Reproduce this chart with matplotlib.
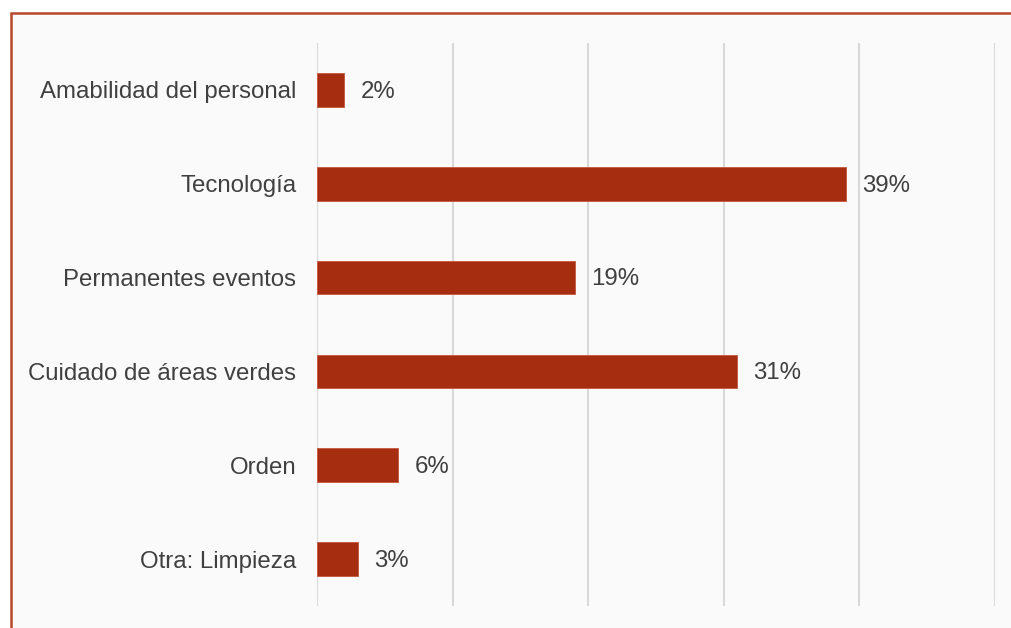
import matplotlib.pyplot as plt
from matplotlib.patches import Rectangle

# Respuestas por categoría (%)
categorias = ['Amabilidad del personal', 'Tecnología', 'Permanentes eventos',
              'Cuidado de áreas verdes', 'Orden', 'Otra: Limpieza']
porcentajes = [2, 39, 19, 31, 6, 3]
x_ticks = [0, 10, 20, 30, 40, 50]

plt.rcParams['font.family'] = ['Liberation Sans', 'DejaVu Sans']

fig = plt.figure(figsize=(10.11, 6.28), dpi=100, facecolor='white')

# marco del gráfico
marco = Rectangle((10.5 / 1011, -0.05), 1.05, 1 - 13.5 / 628 + 0.05,
                  transform=fig.transFigure, facecolor='#fafafa',
                  edgecolor='#b8482c', linewidth=1.8, zorder=-10)
fig.patches.append(marco)

ax = fig.add_axes([317 / 1011, 1 - 606 / 628, (995 - 317) / 1011, (606 - 43) / 628])
ax.set_facecolor('none')
ax.set_zorder(1)

y = range(len(categorias))
barras = ax.barh(y, porcentajes, height=0.36, color='#a62d10',
                 edgecolor='#c4573c', linewidth=0.6, zorder=3)

for yi, v in zip(y, porcentajes):
    ax.text(v + 1.2, yi + 0.02, f'{v}%', va='center', ha='left',
            fontsize=17.3, color='#404040')

ax.set_xlim(0, 50)
ax.set_ylim(len(categorias) - 0.5, -0.5)
ax.set_xticks(x_ticks)
ax.set_xticklabels([])
ax.set_yticks(list(y))
ax.set_yticklabels(categorias, fontsize=17.3, color='#404040')
ax.tick_params(axis='both', length=0)
ax.tick_params(axis='y', pad=15)
ax.grid(axis='x', color='#d9d9d9', linewidth=1.5, zorder=0)
for s in ax.spines.values():
    s.set_visible(False)

fig.savefig('out.png', dpi=100, facecolor=fig.get_facecolor())
